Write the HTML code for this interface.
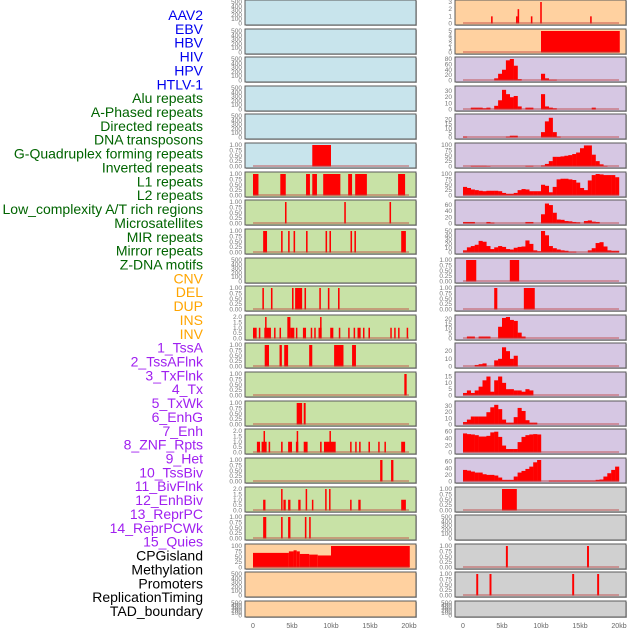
<!DOCTYPE html>
<html><head><meta charset="utf-8">
<style>
body{margin:0;background:#fff;}
svg{display:block;font-family:"Liberation Sans",sans-serif;}
</style></head>
<body>
<svg id="chart" width="630" height="630" viewBox="0 0 630 630" xmlns="http://www.w3.org/2000/svg"></svg>
<script>
// ---------- labels ----------
const trackLabels = ["AAV2","EBV","HBV","HIV","HPV","HTLV-1","Alu repeats","A-Phased repeats","Directed repeats","DNA transposons","G-Quadruplex forming repeats","Inverted repeats","L1 repeats","L2 repeats","Low_complexity A/T rich regions","Microsatellites","MIR repeats","Mirror repeats","Z-DNA motifs","CNV","DEL","DUP","INS","INV","1_TssA","2_TssAFlnk","3_TxFlnk","4_Tx","5_TxWk","6_EnhG","7_Enh","8_ZNF_Rpts","9_Het","10_TssBiv","11_BivFlnk","12_EnhBiv","13_ReprPC","14_ReprPCWk","15_Quies","CPGisland","Methylation","Promoters","ReplicationTiming","TAD_boundary"];
const labelGroups = [6,13,5,15,5];
const xTickLabels = ["0","5kb","10kb","15kb","20kb"];
const xTickValues = [0,5,10,15,20];

// ---------- tick label sets ----------
const ticksEmpty = ["0","100","200","300","400","500"];
const ticksOne = ["0.00","0.25","0.50","0.75","1.00"];
const ticksTwo = ["0.0","0.5","1.0","1.5","2.0"];

// ---------- data: segments [startKb, endKb, value] ----------
const htlvSeg = [[7.6,10.0,1]];
const aluSeg = [[0,0.7,1],[3.5,4.2,1],[6.8,7.3,1],[7.6,8.2,1],[9.0,11.2,1],[12.2,12.7,1],[13.1,14.6,1],[18.6,19.5,1]];
const aphasedSeg = [[4.1,4.3,1],[11.7,11.9,1],[17.5,17.7,1]];
const directedSeg = [[1.3,1.8,1],[3.6,3.8,1],[4.5,4.7,1],[5.2,5.4,1],[6.8,7.0,1],[9.3,9.5,1],[9.8,10.0,1],[12.5,12.7,1],[13.0,13.2,1],[19.0,19.6,1]];
const gquadSeg = [[1.2,1.4,1],[2.3,2.5,1],[5.0,5.2,1],[5.4,6.3,1],[6.6,6.8,1],[8.5,8.7,1],[9.6,9.8,1],[10.9,11.1,1]];
const invertedSeg = [[0,0.47,1],[0.75,0.9,1],[1.45,2.3,1],[1.55,1.65,2],[2.7,2.85,1],[3.4,3.55,1],[4.4,4.8,2],[4.8,5.3,1],[5.5,5.65,1],[6.4,6.8,1],[7.4,7.55,1],[7.85,8.0,1],[8.4,8.8,1],[8.6,8.75,2],[9.9,10.3,1],[11.0,11.15,1],[12.2,12.35,1],[12.9,13.05,1],[13.4,13.8,1],[14.1,14.25,1],[14.8,15.0,1],[17.6,17.75,1],[18.1,18.25,1],[18.6,18.75,1],[19.7,19.85,1]];
const l1Seg = [[1.5,2.05,1],[3.4,3.7,1],[4.0,4.5,1],[7.2,7.6,1],[10.4,11.6,1],[12.7,13.2,1]];
const l2Seg = [[19.4,19.7,1]];
const lowcSeg = [[5.6,6.3,1],[6.5,6.75,1]];
const microSeg = [[0.5,0.9,1],[1.1,1.75,1],[1.35,1.5,2],[2.0,2.2,1],[3.6,3.8,1],[4.5,5.0,1],[5.5,5.8,1],[5.6,5.72,2],[6.5,7.0,1],[8.6,8.8,1],[9.1,10.6,1],[9.8,9.95,2],[12.45,12.6,1],[13.1,13.25,1],[13.6,13.8,1],[14.8,15.0,1],[16.05,16.2,1],[16.85,17.0,1],[19.0,19.5,1]];
const mirSeg = [[16.3,16.6,1],[17.7,18.0,1]];
const mirrorSeg = [[1.3,1.6,1],[3.6,3.75,2],[3.9,4.2,1],[4.5,4.8,1],[5.8,6.1,1],[6.75,6.9,2],[7.55,7.7,1],[9.25,9.4,2],[9.75,9.9,2],[12.45,12.6,1],[13.5,13.8,1],[19.0,19.6,1]];
const zdnaSeg = [[1.3,1.7,1],[3.6,3.8,1],[4.5,4.8,1],[6.65,6.85,1],[7.2,7.4,1]];
const cnvSeg = [[0,4.6,68],[4.6,5.2,75],[5.2,5.6,80],[5.6,6.0,75],[6.0,7.2,63],[7.2,8.3,60],[8.3,10.0,56],[10.0,20.1,125]];
const insSeg = [[3.6,3.8,1],[6.8,7.0,1],[7.0,7.2,2],[8.7,8.9,1],[9.9,10.1,3],[16.3,16.5,1]];
const invSeg = [[10.0,20.1,5]];
const znfSeg = [[0.4,1.7,1],[6.0,7.2,1]];
const hetSeg = [[4.0,4.4,1],[7.8,9.2,1]];
const cpgSeg = [[5.0,6.9,1]];
const promSeg = [[5.5,5.75,1],[15.9,16.15,1]];
const repSeg = [[1.7,1.95,1],[3.4,3.65,1],[14.0,14.25,1],[17.2,17.45,1]];

// ---------- data: histogram bins (0.5 kb each, 0-20 kb) ----------
const tssA = [0,0,0,0,0,0,0,0,8,25,40,75,80,55,5,0,0,0,0,0,25,8,3,3,0,0,0,0,0,0,0,0,0,0,0,0,0,0,0,0];
const tssAFlnk = [0,0,3,3,3,2,3,0,6,15,32,25,20,22,5,0,3,3,0,0,25,5,3,2,0,0,0,0,0,0,0,0,0,3,0,0,0,0,0,0];
const txFlnk = [1,0,0,0,0,0,0,0,0,0,0,1,2,2,0,0,0,0,0,0,6,18,22,6,1,0,0,0,0,0,0,0,0,0,0,0,0,0,0,0];
const tx = [0,0,3,3,3,3,2,0,0,0,0,0,0,0,0,0,3,3,0,0,5,12,25,45,45,47,50,53,58,65,85,98,98,55,25,10,3,0,0,0];
const txWk = [40,35,28,25,22,20,22,22,22,20,12,8,8,12,25,30,28,20,20,20,50,45,15,40,75,78,78,75,72,60,35,25,70,95,100,98,95,95,95,85];
const enhG = [5,5,5,0,0,0,5,3,0,0,0,0,0,0,0,0,5,5,0,0,30,65,60,35,13,12,8,7,5,4,0,8,10,6,5,0,0,0,0,0];
const enh = [5,12,15,18,27,25,15,8,12,15,13,8,7,11,13,14,28,20,5,3,50,40,15,10,7,5,4,2,2,0,0,0,5,10,22,24,14,5,4,4];
const tssBiv = [0,2,2,0,2,2,2,0,0,12,21,22,19,18,6,2,0,0,0,0,0,0,0,0,0,0,0,0,0,0,0,0,0,0,0,0,0,0,0,0];
const bivFlnk = [0,0,0,2,3,4,0,0,8,10,25,20,10,14,0,0,0,0,0,0,0,0,0,0,0,0,0,0,0,0,0,0,0,0,0,0,0,0,0,0];
const enhBiv = [2,4,2,4,7,12,15,3,12,15,10,5,5,4,4,3,5,4,0,0,0,0,0,0,0,0,0,0,0,0,0,0,0,0,0,0,0,0,0,0];
const reprPC = [4,8,13,13,13,13,20,28,32,25,8,3,3,12,27,22,7,3,3,0,0,0,0,0,0,0,0,0,0,0,0,0,0,0,0,0,0,0,0,0];
const reprPCWk = [55,53,52,50,46,46,48,58,60,45,20,10,10,10,30,45,50,52,53,52,0,0,0,0,0,0,0,0,0,0,0,0,0,0,0,0,0,0,0,0];
const quies = [35,33,30,27,27,22,20,20,18,12,5,5,5,15,27,32,38,45,58,65,0,0,3,3,3,3,3,3,3,3,3,3,3,3,5,6,15,25,35,45];

// ---------- panel configuration ----------
const BLUE="#c8e4ec", GREEN="#c8e2a6", PEACH="#ffd1a0", LAV="#d6c7e3", GRAY="#d0d0d0";
const leftPanels = [
 {name:"aav2",bg:BLUE,type:"empty"},{name:"ebv",bg:BLUE,type:"empty"},{name:"hbv",bg:BLUE,type:"empty"},
 {name:"hiv",bg:BLUE,type:"empty"},{name:"hpv",bg:BLUE,type:"empty"},
 {name:"htlv-1",bg:BLUE,type:"seg",data:htlvSeg,max:1,ticks:ticksOne},
 {name:"alu-repeats",bg:GREEN,type:"seg",data:aluSeg,max:1,ticks:ticksOne},
 {name:"a-phased-repeats",bg:GREEN,type:"seg",data:aphasedSeg,max:1,ticks:ticksOne},
 {name:"directed-repeats",bg:GREEN,type:"seg",data:directedSeg,max:1,ticks:ticksOne},
 {name:"dna-transposons",bg:GREEN,type:"empty"},
 {name:"g-quadruplex",bg:GREEN,type:"seg",data:gquadSeg,max:1,ticks:ticksOne},
 {name:"inverted-repeats",bg:GREEN,type:"seg",data:invertedSeg,max:2,ticks:ticksTwo},
 {name:"l1-repeats",bg:GREEN,type:"seg",data:l1Seg,max:1,ticks:ticksOne},
 {name:"l2-repeats",bg:GREEN,type:"seg",data:l2Seg,max:1,ticks:ticksOne},
 {name:"low-complexity",bg:GREEN,type:"seg",data:lowcSeg,max:1,ticks:ticksOne},
 {name:"microsatellites",bg:GREEN,type:"seg",data:microSeg,max:2,ticks:ticksTwo},
 {name:"mir-repeats",bg:GREEN,type:"seg",data:mirSeg,max:1,ticks:ticksOne},
 {name:"mirror-repeats",bg:GREEN,type:"seg",data:mirrorSeg,max:2,ticks:ticksTwo},
 {name:"z-dna-motifs",bg:GREEN,type:"seg",data:zdnaSeg,max:1,ticks:ticksOne},
 {name:"cnv",bg:PEACH,type:"seg",data:cnvSeg,max:100,ticks:["0","25","50","75","100"]},
 {name:"del",bg:PEACH,type:"empty"},
 {name:"dup",bg:PEACH,type:"empty"}
];
const rightPanels = [
 {name:"ins",bg:PEACH,type:"seg",data:insSeg,max:3,ticks:["0","1","2","3"]},
 {name:"inv",bg:PEACH,type:"seg",data:invSeg,max:5,ticks:["0","1","2","3","4","5"]},
 {name:"tssa",bg:LAV,type:"hist",data:tssA,max:80,ticks:["0","20","40","60","80"]},
 {name:"tssaflnk",bg:LAV,type:"hist",data:tssAFlnk,max:35,ticks:["0","10","20","30"]},
 {name:"txflnk",bg:LAV,type:"hist",data:txFlnk,max:24,ticks:["0","5","10","15","20"]},
 {name:"tx",bg:LAV,type:"hist",data:tx,max:100,ticks:["0","25","50","75","100"]},
 {name:"txwk",bg:LAV,type:"hist",data:txWk,max:100,ticks:["0","25","50","75","100"]},
 {name:"enhg",bg:LAV,type:"hist",data:enhG,max:70,ticks:["0","20","40","60"]},
 {name:"enh",bg:LAV,type:"hist",data:enh,max:50,ticks:["0","10","20","30","40","50"]},
 {name:"znf-rpts",bg:LAV,type:"seg",data:znfSeg,max:1,ticks:ticksOne},
 {name:"het",bg:LAV,type:"seg",data:hetSeg,max:1,ticks:ticksOne},
 {name:"tssbiv",bg:LAV,type:"hist",data:tssBiv,max:22,ticks:["0","5","10","15","20"]},
 {name:"bivflnk",bg:LAV,type:"hist",data:bivFlnk,max:28,ticks:["0","10","20"]},
 {name:"enhbiv",bg:LAV,type:"hist",data:enhBiv,max:17,ticks:["0","5","10","15"]},
 {name:"reprpc",bg:LAV,type:"hist",data:reprPC,max:35,ticks:["0","10","20","30"]},
 {name:"reprpcwk",bg:LAV,type:"hist",data:reprPCWk,max:62,ticks:["0","20","40","60"]},
 {name:"quies",bg:LAV,type:"hist",data:quies,max:65,ticks:["0","20","40","60"]},
 {name:"cpgisland",bg:GRAY,type:"seg",data:cpgSeg,max:1,ticks:ticksOne},
 {name:"methylation",bg:GRAY,type:"empty"},
 {name:"promoters",bg:GRAY,type:"seg",data:promSeg,max:1,ticks:ticksOne},
 {name:"replication-timing",bg:GRAY,type:"seg",data:repSeg,max:1,ticks:ticksOne},
 {name:"tad-boundary",bg:GRAY,type:"empty"}
];

const svg = document.getElementById('chart');
const NS = "http://www.w3.org/2000/svg";
function mk(tag, attrs, parent){
  const e = document.createElementNS(NS, tag);
  for (const k in attrs) e.setAttribute(k, attrs[k]);
  (parent||svg).appendChild(e);
  return e;
}

// labels
const groupColors = ["#0000ee","#006400","#ffa500","#a020f0","#000000"];
let gi = 0, gc = 0;
trackLabels.forEach((t,i)=>{
  while (gc >= labelGroups[gi]) { gi++; gc = 0; }
  gc++;
  const el = mk('text',{x:203,y:20+i*13.86,'text-anchor':'end','font-size':14,fill:groupColors[gi]});
  el.textContent = t;
  
  
});

function rowTop(i){ return Math.round(i*28.62); }
function rowH(i){ return i===21 ? 16 : 25; }

function drawPanel(p, i, left, zeroX){
  const top = rowTop(i), h = rowH(i), w = 171;
  const g = mk('g',{});
  
  
  mk('rect',{x:left+1,y:top+1,width:w,height:h,fill:'#bbb'},g);
  mk('rect',{x:left,y:top,width:w,height:h,fill:p.bg,stroke:'#5a5a5a','stroke-width':1},g);
  const bot = top + h - 1.5, inner = h - 3.5;
  const xs = kb => zeroX + kb*7.8;
  const max = p.type==='empty' ? 500 : p.max;
  const ys = v => bot - Math.min(v/max, 1.0)*inner;
  // ticks
  const ticks = p.type==='empty' ? ticksEmpty : p.ticks;
  ticks.forEach(t=>{
    const v = parseFloat(t);
    const tx = mk('text',{x:left-3,y:ys(v)+2,'text-anchor':'end','font-size':6.5,fill:'#777'},g);
    tx.textContent = t;
    
    
  });
  if (p.type==='empty') return;
  mk('clipPath',{id:'c'+left+'_'+i},g).appendChild(Object.assign(document.createElementNS(NS,'rect'),{}));
  const cp = g.lastChild.firstChild;
  cp.setAttribute('x',left); cp.setAttribute('y',top); cp.setAttribute('width',w); cp.setAttribute('height',h);
  const mg = mk('g',{'clip-path':'url(#c'+left+'_'+i+')'},g);
  if (p.type==='seg'){
    p.data.forEach(d=>{
      const r = mk('rect',{x:xs(d[0]),y:ys(d[2]),width:Math.max(1.5,xs(d[1])-xs(d[0])),height:bot-ys(d[2]),fill:'#ff0000'},mg);
      
      
    });
  } else {
    p.data.forEach((v,k)=>{
      if (v<=0) return;
      const r = mk('rect',{x:xs(k*0.5),y:ys(v),width:xs((k+1)*0.5)-xs(k*0.5)+0.2,height:bot-ys(v),fill:'#ff0000'},mg);
      
      
    });
  }
  mk('line',{x1:xs(0),x2:xs(20),y1:bot-0.5,y2:bot-0.5,stroke:'rgba(190,60,60,0.55)','stroke-width':1.5},mg);
}

leftPanels.forEach((p,i)=>drawPanel(p,i,245,253));
rightPanels.forEach((p,i)=>drawPanel(p,i,455,463));

// x axes
[253,463].forEach(z=>{
  xTickValues.forEach((v,k)=>{
    const t = mk('text',{x:z+v*7.8,y:628,'text-anchor':'middle','font-size':7,fill:'#666'});
    t.textContent = xTickLabels[k];
    
    
  });
});
</script>
</body></html>
